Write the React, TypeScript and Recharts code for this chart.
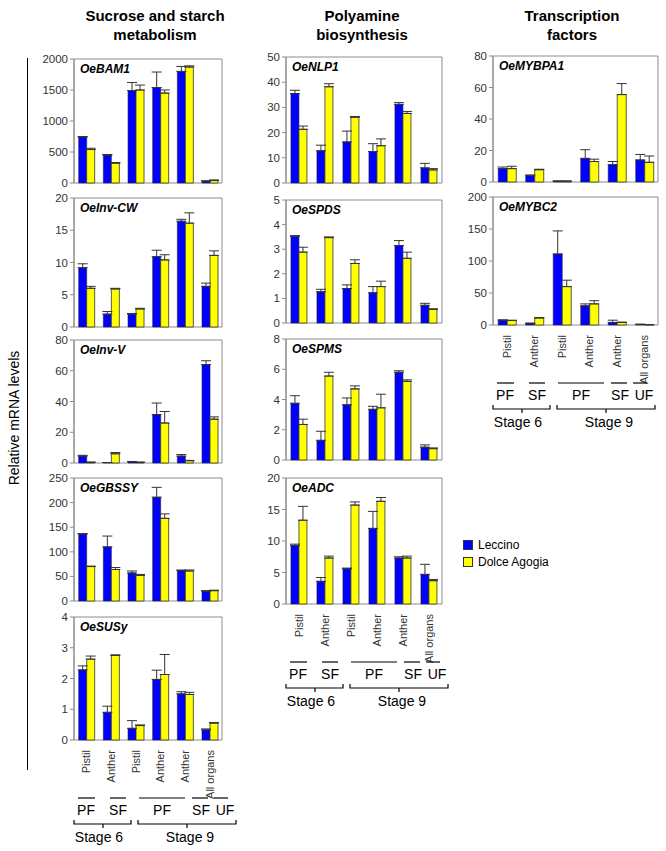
import React from 'react';
import { BarChart, Bar, XAxis, YAxis, ErrorBar, ReferenceArea } from 'recharts';

// sample labels along x (same for every panel)
const organs = ['Pistil', 'Anther', 'Pistil', 'Anther', 'Anther', 'All organs'];

// Sucrose and starch metabolism
const bam1Lec = [740, 450, 1490, 1540, 1800, 30];
const bam1LecErr = [10, 10, 130, 250, 80, 5];
const bam1Dol = [540, 320, 1500, 1450, 1870, 40];
const bam1DolErr = [20, 10, 80, 50, 20, 10];

const invCwLec = [9.2, 2.0, 2.0, 10.9, 16.4, 6.3];
const invCwLecErr = [0.6, 0.4, 0.1, 1.0, 0.3, 0.5];
const invCwDol = [6.0, 5.9, 2.8, 10.4, 16.1, 11.1];
const invCwDolErr = [0.3, 0.1, 0.1, 0.8, 1.6, 0.7];

const invVLec = [4.5, 0.3, 0.8, 31.5, 4.5, 64];
const invVLecErr = [0.5, 0, 0.2, 7.5, 1, 2.5];
const invVDol = [0.5, 6.0, 0.5, 26, 1.5, 28.5];
const invVDolErr = [0, 0.8, 0, 7.5, 0.2, 1.5];

const gbssyLec = [136, 110, 57, 211, 62, 20];
const gbssyLecErr = [1, 22, 4, 20, 1, 1];
const gbssyDol = [70, 64, 52, 168, 61, 21];
const gbssyDolErr = [1, 4, 2, 9, 2, 1];

const susyLec = [2.28, 0.9, 0.38, 1.97, 1.5, 0.33];
const susyLecErr = [0.13, 0.2, 0.25, 0.3, 0.07, 0.03];
const susyDol = [2.63, 2.75, 0.47, 2.13, 1.48, 0.55];
const susyDolErr = [0.1, 0.02, 0.02, 0.65, 0.07, 0.02];

// Polyamine biosynthesis
const nlp1Lec = [35.5, 12.8, 16.3, 12.5, 31.2, 6];
const nlp1LecErr = [1.3, 2.2, 4.3, 3.1, 0.7, 1.8];
const nlp1Dol = [21.3, 38.2, 26.1, 14.8, 27.6, 5.2];
const nlp1DolErr = [1.3, 1.2, 0.3, 2.7, 0.8, 0.5];

const spdsLec = [3.53, 1.27, 1.4, 1.23, 3.15, 0.72];
const spdsLecErr = [0.02, 0.1, 0.15, 0.25, 0.2, 0.08];
const spdsDol = [2.88, 3.47, 2.42, 1.48, 2.63, 0.55];
const spdsDolErr = [0.2, 0.03, 0.15, 0.22, 0.25, 0.03];

const spmsLec = [3.75, 1.3, 3.65, 3.35, 5.8, 0.85];
const spmsLecErr = [0.5, 0.6, 0.45, 0.2, 0.1, 0.15];
const spmsDol = [2.35, 5.55, 4.7, 3.45, 5.2, 0.75];
const spmsDolErr = [0.35, 0.25, 0.2, 0.9, 0.1, 0.05];

const adcLec = [9.3, 3.6, 5.6, 12.0, 7.3, 4.7];
const adcLecErr = [0.2, 0.6, 0.1, 2.7, 0.2, 1.6];
const adcDol = [13.3, 7.3, 15.7, 16.3, 7.3, 3.7];
const adcDolErr = [2.2, 0.3, 0.5, 0.6, 0.3, 0.2];

// Transcription factors
const mybpa1Lec = [8.5, 4, 0.5, 15, 11, 14];
const mybpa1LecErr = [1, 0.5, 0.2, 5.5, 2, 3.5];
const mybpa1Dol = [8.5, 7.8, 0.5, 13, 55.5, 12.5];
const mybpa1DolErr = [1.5, 0.3, 0.2, 1.5, 7, 4];

const mybc2Lec = [7.5, 2.5, 111, 30, 4, 1];
const mybc2LecErr = [0.5, 0.5, 36, 3, 3.5, 0.2];
const mybc2Dol = [7, 11, 60, 33, 4, 0.5];
const mybc2DolErr = [0.5, 0.5, 10, 5, 0.5, 0.2];

const FONT = "Arial, 'Liberation Sans', sans-serif";
const BLUE = '#0000ff';
const YELLOW = '#ffff00';
const Y_W = 44;

const OrganTick = (props: any) => {
  const { x, y, payload } = props;
  return (
    <text
      transform={`translate(${x + 4},${y + 2}) rotate(-90)`}
      textAnchor="end"
      fontSize={11}
      fill="#333"
      fontFamily={FONT}
    >
      {organs[payload.value]}
    </text>
  );
};

interface PanelProps {
  left: number;
  right: number;
  top: number;
  zero: number;
  name: string;
  max: number;
  ticks: number[];
  lec: number[];
  lecErr: number[];
  dol: number[];
  dolErr: number[];
  labels?: boolean;
}

const Panel = ({ left, right, top, zero, name, max, ticks, lec, lecErr, dol, dolErr, labels }: PanelProps) => {
  const plotW = right - left;
  const plotH = zero - top;
  const mt = 8;
  const mr = 2;
  const xh = labels ? 72 : 0;
  const mb = labels ? 0 : 8;
  const data = organs.map((_, i) => ({
    i,
    lec: lec[i],
    dol: dol[i],
    lecErr: [0, lecErr[i]],
    dolErr: [0, dolErr[i]],
  }));
  return (
    <div style={{ position: 'absolute', left: left - Y_W, top: top - mt }}>
      <BarChart
        width={Y_W + plotW + mr}
        height={mt + plotH + xh + mb}
        data={data}
        margin={{ top: mt, right: mr, left: 0, bottom: mb }}
        barCategoryGap="19%"
        barGap={0}
      >
        <XAxis
          dataKey="i"
          hide={!labels}
          height={xh}
          axisLine={false}
          tickLine={false}
          interval={0}
          tick={OrganTick}
        />
        <YAxis
          domain={[0, max]}
          ticks={ticks}
          width={Y_W}
          interval={0}
          axisLine={{ stroke: '#8c8c8c' }}
          tickLine={{ stroke: '#8c8c8c' }}
          tickSize={4}
          tick={{ fontSize: 11.5, fill: '#333', fontFamily: FONT }}
        />
        <ReferenceArea y1={0} y2={max} fill="none" stroke="#8c8c8c" strokeWidth={1} ifOverflow="visible" />
        <Bar dataKey="lec" fill={BLUE} stroke="#202040" strokeWidth={0.6} isAnimationActive={false}>
          <ErrorBar dataKey="lecErr" width={5} stroke="#333" strokeWidth={1} direction="y" />
        </Bar>
        <Bar dataKey="dol" fill={YELLOW} stroke="#333" strokeWidth={0.8} isAnimationActive={false}>
          <ErrorBar dataKey="dolErr" width={5} stroke="#333" strokeWidth={1} direction="y" />
        </Bar>
      </BarChart>
      <div
        style={{
          position: 'absolute',
          left: Y_W + 6,
          top: mt + 3,
          fontSize: 12,
          fontWeight: 'bold',
          fontStyle: 'italic',
          fontFamily: FONT,
          lineHeight: '14px',
        }}
      >
        {name}
      </div>
    </div>
  );
};

// group / stage annotation under the bottom panel of each column
const Groups = ({ left, zero }: { left: number; zero: number }) => {
  const lineY = zero + 58;
  const labY = zero + 75;
  const braceY = zero + 84;
  const stageY = zero + 102;
  const groups = [
    { a: 4, b: 21, t: 'PF', c: 12 },
    { a: 36, b: 52, t: 'SF', c: 44 },
    { a: 65, b: 111, t: 'PF', c: 88 },
    { a: 118, b: 134, t: 'SF', c: 127 },
    { a: 140, b: 154, t: 'UF', c: 151 },
  ];
  const braces = [
    { a: 0, b: 57, m: 29, t: 'Stage 6', c: 25 },
    { a: 64, b: 162, m: 113, t: 'Stage 9', c: 116 },
  ];
  return (
    <svg
      style={{ position: 'absolute', left: left - 10, top: zero }}
      width={190}
      height={115}
      viewBox={`${left - 10} ${zero} 190 115`}
    >
      {groups.map((g, k) => (
        <g key={k}>
          <line x1={left + g.a} x2={left + g.b} y1={lineY} y2={lineY} stroke="#000" strokeWidth={1.2} />
          <text x={left + g.c} y={labY} textAnchor="middle" fontSize={14} fontFamily={FONT} fill="#000">
            {g.t}
          </text>
        </g>
      ))}
      {braces.map((b, k) => (
        <g key={k}>
          <path
            d={`M${left + b.a},${braceY - 4} L${left + b.a},${braceY} L${left + b.b},${braceY} L${left + b.b},${braceY - 4} M${left + b.m},${braceY} L${left + b.m},${braceY + 4}`}
            stroke="#000"
            strokeWidth={1.2}
            fill="none"
          />
          <text x={left + b.c} y={stageY} textAnchor="middle" fontSize={14} fontFamily={FONT} fill="#000">
            {b.t}
          </text>
        </g>
      ))}
    </svg>
  );
};

const Title = ({ cx, lines }: { cx: number; lines: string[] }) => (
  <div
    style={{
      position: 'absolute',
      left: cx - 100,
      top: 6,
      width: 200,
      textAlign: 'center',
      fontWeight: 'bold',
      fontSize: 15,
      lineHeight: '19px',
      fontFamily: FONT,
    }}
  >
    {lines.map((l) => (
      <div key={l}>{l}</div>
    ))}
  </div>
);

const C1 = { left: 74, right: 222 };
const C2 = { left: 286, right: 442 };
const C3 = { left: 493, right: 658 };

export default function App() {
  return (
    <div style={{ position: 'absolute', left: 0, top: 0, width: 666, height: 851, background: '#fff', fontFamily: FONT }}>
      <Title cx={155} lines={['Sucrose and starch', 'metabolism']} />
      <Title cx={362} lines={['Polyamine', 'biosynthesis']} />
      <Title cx={572} lines={['Transcription', 'factors']} />

      <div style={{ position: 'absolute', left: 27, top: 58, height: 712, borderLeft: '1px solid #000' }} />
      <div
        style={{
          position: 'absolute',
          left: 14 - 100,
          top: 418 - 10,
          width: 200,
          height: 20,
          textAlign: 'center',
          fontSize: 14,
          lineHeight: '20px',
          transform: 'rotate(-90deg)',
        }}
      >
        Relative mRNA levels
      </div>

      <Panel {...C1} top={59} zero={183} name="OeBAM1" max={2000} ticks={[0, 500, 1000, 1500, 2000]}
        lec={bam1Lec} lecErr={bam1LecErr} dol={bam1Dol} dolErr={bam1DolErr} />
      <Panel {...C1} top={198} zero={327} name="OeInv-CW" max={20} ticks={[0, 5, 10, 15, 20]}
        lec={invCwLec} lecErr={invCwLecErr} dol={invCwDol} dolErr={invCwDolErr} />
      <Panel {...C1} top={340} zero={463} name="OeInv-V" max={80} ticks={[0, 20, 40, 60, 80]}
        lec={invVLec} lecErr={invVLecErr} dol={invVDol} dolErr={invVDolErr} />
      <Panel {...C1} top={478} zero={601} name="OeGBSSY" max={250} ticks={[0, 50, 100, 150, 200, 250]}
        lec={gbssyLec} lecErr={gbssyLecErr} dol={gbssyDol} dolErr={gbssyDolErr} />
      <Panel {...C1} top={617} zero={740} name="OeSUSy" max={4} ticks={[0, 1, 2, 3, 4]}
        lec={susyLec} lecErr={susyLecErr} dol={susyDol} dolErr={susyDolErr} labels />
      <Groups left={C1.left} zero={740} />

      <Panel {...C2} top={57} zero={183} name="OeNLP1" max={50} ticks={[0, 10, 20, 30, 40, 50]}
        lec={nlp1Lec} lecErr={nlp1LecErr} dol={nlp1Dol} dolErr={nlp1DolErr} />
      <Panel {...C2} top={200} zero={323} name="OeSPDS" max={5} ticks={[0, 1, 2, 3, 4, 5]}
        lec={spdsLec} lecErr={spdsLecErr} dol={spdsDol} dolErr={spdsDolErr} />
      <Panel {...C2} top={339} zero={460} name="OeSPMS" max={8} ticks={[0, 2, 4, 6, 8]}
        lec={spmsLec} lecErr={spmsLecErr} dol={spmsDol} dolErr={spmsDolErr} />
      <Panel {...C2} top={478} zero={604} name="OeADC" max={20} ticks={[0, 5, 10, 15, 20]}
        lec={adcLec} lecErr={adcLecErr} dol={adcDol} dolErr={adcDolErr} labels />
      <Groups left={C2.left} zero={604} />

      <Panel {...C3} top={56} zero={182} name="OeMYBPA1" max={80} ticks={[0, 20, 40, 60, 80]}
        lec={mybpa1Lec} lecErr={mybpa1LecErr} dol={mybpa1Dol} dolErr={mybpa1DolErr} />
      <Panel {...C3} top={197} zero={325} name="OeMYBC2" max={200} ticks={[0, 50, 100, 150, 200]}
        lec={mybc2Lec} lecErr={mybc2LecErr} dol={mybc2Dol} dolErr={mybc2DolErr} labels />
      <Groups left={C3.left} zero={325} />

      <div style={{ position: 'absolute', left: 463, top: 540, width: 10, height: 10, background: BLUE, border: '1px solid #333', boxSizing: 'border-box' }} />
      <div style={{ position: 'absolute', left: 478, top: 538, fontSize: 12, lineHeight: '14px' }}>Leccino</div>
      <div style={{ position: 'absolute', left: 463, top: 557, width: 10, height: 10, background: YELLOW, border: '1px solid #333', boxSizing: 'border-box' }} />
      <div style={{ position: 'absolute', left: 478, top: 555, fontSize: 12, lineHeight: '14px' }}>Dolce Agogia</div>
    </div>
  );
}
